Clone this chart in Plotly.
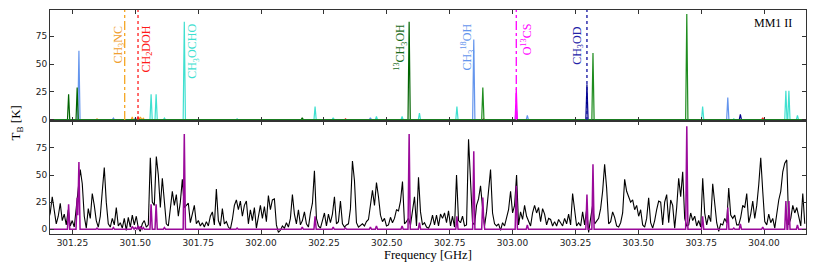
import numpy as np
import plotly.graph_objects as go
from plotly.subplots import make_subplots

# ---------------- data ----------------
X_RANGE = [301.161, 304.167]
TICK_FREQ = [301.25, 301.50, 301.75, 302.00, 302.25, 302.50, 302.75, 303.00, 303.25, 303.50, 303.75, 304.00]
TB_TICKS = [0, 25, 50, 75]

# observed spectrum (uniform channel grid)
OBS_F0 = 301.154
OBS_DF = 0.007958
obs_tb = [
    8, 15, 30, 18, 5, 12, 24, 8, 14, 4, 18, 3, 8, 2, 20, 38, 55, 42, 12, 1,
    19, 10, 33, 22, 8, 2, 12, 35, 57, 25, 5, 2, 10, 4, 20, 3, 6, 1, 10, -1,
    11, 2, 13, 4, 12, 1, -2, 5, 8, 2, 4, 66, 25, 22, 67, 50, 20, 47, 22, 5,
    3, 20, 35, 22, 32, 12, 25, 46, 20, 22, 24, 6, 14, 22, 5, 8, 3, 6, 2, 7,
    3, 12, 16, 4, 37, 8, 3, 19, 5, 7, 2, 0, 9, 22, 27, 18, 26, 12, 22, 26,
    5, 18, 8, 20, 1, 12, 22, 10, 21, 7, 31, 18, 27, 28, 4, -3, -1, 3, 1, 6,
    2, 10, 32, 14, 5, 18, 4, 8, 16, 5, 2, 15, 24, 54, 10, 3, 1, 8, 15, 3,
    14, 6, 14, 30, 5, 7, 26, 5, 2, 4, 5, 19, 63, 45, 6, 2, 4, 5, 3, 7,
    9, 24, 36, 22, 43, 30, 13, 7, 10, 3, 4, 11, 6, 10, 18, 17, 26, 44, 5, 7,
    10, 4, 18, 30, 3, 48, 16, 4, 6, 2, 1, 5, 13, 4, 13, 3, 14, 10, 15, 6,
    17, 3, 12, 2, 50, 8, 6, 12, 3, 4, 83, 45, 6, 4, 22, 28, 40, 20, 3, 16,
    40, 55, 15, 5, 3, 5, -1, 6, 3, 10, 18, 35, 15, 22, 50, 4, 16, 9, 22, 12,
    7, 3, 15, 22, 15, 20, 7, 19, 14, 4, 10, 9, 3, 7, 3, 9, 6, 3, 10, 5,
    14, 4, 33, 15, 3, 6, 3, 16, 4, 18, -3, 10, 22, 5, 8, 10, 19, 35, 60, 38,
    5, 7, 16, 11, 3, 2, 6, 15, 46, 35, 30, 25, 27, 18, 22, 12, 18, 4, 2, 10,
    29, 6, 1, 8, 18, 26, 25, 4, 25, 32, 6, 27, 22, 1, 20, 47, 30, 53, 10, 3,
    4, 15, 8, 12, 3, 8, 2, 47, 15, 4, 13, 7, 42, 20, 6, -2, 5, 4, 10, 6,
    38, 13, 10, 13, 4, 4, 11, 22, 20, 33, 6, 14, 26, 10, 22, 41, 66, 35, 7, 4,
    14, 6, 10, 1, 15, 27, 35, 53, 61, 64, 4, 10, 22, 15, 20, 12, 3, 33, 5,
]

# model line peaks per species (frequency GHz, peak T_B K)
ch3nc_freq = [301.348, 301.488, 301.520, 301.532]
ch3nc_tb = [1, 2.5, 2.5, 1.5]
ch2doh_freq = [301.511, 302.336, 302.885, 303.995]
ch2doh_tb = [3, 1, 1, 2]
ch3_18oh_freq = [301.276, 301.413, 301.500, 302.435, 302.846, 303.015, 303.059, 303.856]
ch3_18oh_tb = [62, 1.5, 1.5, 2, 72, 12, 4, 20]
ch3ocho_freq = [301.563, 301.583, 301.616, 301.695, 301.905, 302.215, 302.287, 302.459,
                302.561, 302.630, 302.779, 303.756, 303.880, 304.087, 304.099, 304.133]
ch3ocho_tb = [23, 23, 1.5, 88, 1, 12, 2, 3, 3, 6, 12, 12, 1, 26, 26, 4]
o13cs_freq = [303.015]
o13cs_tb = [28]
ch3od_freq = [303.296, 303.906]
ch3od_tb = [32, 5]
ch3oh_freq = [302.882, 303.320, 303.693]
ch3oh_tb = [29, 60, 95]
c13h3oh_freq = [301.235, 301.269, 302.164, 302.589]
c13h3oh_tb = [23, 29, 2, 88]

# marker lines and labels
marker_freq = [301.458, 301.511, 303.015, 303.296]
marker_color = ["#f5a623", "#ff2020", "#ff00ff", "#1010a0"]
marker_dash = ["dashdot", "dot", "dashdot", "dot"]

label_text = ["CH<sub>3</sub>NC", "CH<sub>2</sub>DOH", "CH<sub>3</sub>OCHO",
              "<sup>13</sup>CH<sub>3</sub>OH", "CH<sub>3</sub><sup>18</sup>OH",
              "O<sup>13</sup>CS", "CH<sub>3</sub>OD"]
label_freq = [301.434, 301.547, 301.732, 302.555, 302.820, 303.056, 303.262]
label_top = [86, 86, 88, 88, 88, 88, 86]
label_color = ["#f0a030", "#ff1a1a", "#40e0d0", "#1a6b1a", "#6495ed", "#ff00ff", "#2323a8"]

# ---------------- helpers ----------------
HW = 0.0045


def spikes(freqs, tbs):
    xs = [X_RANGE[0] - 0.01]
    ys = [0.0]
    for f, t in sorted(zip(freqs, tbs)):
        xs += [f - HW, f, f + HW]
        ys += [0.0, t, 0.0]
    xs.append(X_RANGE[1] + 0.01)
    ys.append(0.0)
    return np.array(xs), np.array(ys)


species = [
    (ch3nc_freq, ch3nc_tb, "#f5a623"),
    (ch2doh_freq, ch2doh_tb, "#ff2020"),
    (ch3_18oh_freq, ch3_18oh_tb, "#6495ed"),
    (ch3ocho_freq, ch3ocho_tb, "#40e0d0"),
    (o13cs_freq, o13cs_tb, "#ff00ff"),
    (ch3od_freq, ch3od_tb, "#00008b"),
    (c13h3oh_freq, c13h3oh_tb, "#006400"),
    (ch3oh_freq, ch3oh_tb, "#1e8c1e"),
]

fig = make_subplots(rows=2, cols=1, shared_xaxes=True, vertical_spacing=0,
                    row_heights=[0.496, 0.504])

all_x = []
prof = []
for fr, tb, col in species:
    xs, ys = spikes(fr, tb)
    prof.append((xs, ys))
    all_x.extend(xs.tolist())
    fig.add_trace(go.Scatter(x=xs, y=ys, mode="lines", line=dict(color=col, width=1.2),
                             hoverinfo="skip", showlegend=False), row=1, col=1)

for f, c, d in zip(marker_freq, marker_color, marker_dash):
    fig.add_trace(go.Scatter(x=[f, f], y=[0, 98.5], mode="lines",
                             line=dict(color=c, width=1.3, dash=d),
                             hoverinfo="skip", showlegend=False), row=1, col=1)

# observed spectrum
obs_freq = OBS_F0 + OBS_DF * np.arange(len(obs_tb))
fig.add_trace(go.Scatter(x=obs_freq, y=obs_tb, mode="lines",
                         line=dict(color="black", width=1.1),
                         hoverinfo="skip", showlegend=False), row=2, col=1)

# total model = sum of species profiles
grid = np.unique(np.array(all_x))
total = np.zeros_like(grid)
for xs, ys in prof:
    total += np.interp(grid, xs, ys)
fig.add_trace(go.Scatter(x=grid, y=total, mode="lines",
                         line=dict(color="#9a0a9a", width=1.5),
                         hoverinfo="skip", showlegend=False), row=2, col=1)

# ---------------- layout ----------------
tickfont = dict(family="DejaVu Sans", size=9, color="#222")
axis_common = dict(showline=True, linecolor="#333", linewidth=1, mirror="ticks",
                   ticks="inside", ticklen=4, tickcolor="#333", showgrid=False,
                   zeroline=False, tickfont=tickfont)

fig.update_xaxes(range=X_RANGE, tickvals=TICK_FREQ,
                 ticktext=[f"{v:.2f}" for v in TICK_FREQ], **axis_common)
fig.update_xaxes(showticklabels=False, row=1, col=1)
fig.update_yaxes(tickvals=TB_TICKS, **axis_common)
fig.update_yaxes(range=[-1.1, 98.5], row=1, col=1)
fig.update_yaxes(range=[-4.4, 99.8], row=2, col=1)

ann = []
for t, f, y, c in zip(label_text, label_freq, label_top, label_color):
    ann.append(dict(text=t, x=f, y=y, xref="x", yref="y", textangle=-90,
                    xanchor="center", yanchor="top", showarrow=False,
                    font=dict(family="Liberation Serif", size=12, color=c)))
ann.append(dict(text="MM1 II", x=304.118, y=86.5, xref="x", yref="y",
                xanchor="right", yanchor="middle", showarrow=False,
                font=dict(family="Liberation Serif", size=12, color="black")))
ann.append(dict(text="T<sub>B</sub> [K]", x=-0.044, y=0.497, xref="paper", yref="paper",
                textangle=-90, xanchor="center", yanchor="middle", showarrow=False,
                font=dict(family="Liberation Serif", size=13, color="black")))
ann.append(dict(text="Frequency [GHz]", x=0.5, y=-0.094, xref="paper", yref="paper",
                xanchor="center", yanchor="middle", showarrow=False,
                font=dict(family="Liberation Serif", size=12.5, color="black")))

# the page body adds an 8 px offset, so the figure is sized to fit the window
fig.update_layout(width=823, height=259, margin=dict(l=42, r=25, t=2, b=33),
                  paper_bgcolor="white", plot_bgcolor="white", annotations=ann)

fig.write_html("out.html")
